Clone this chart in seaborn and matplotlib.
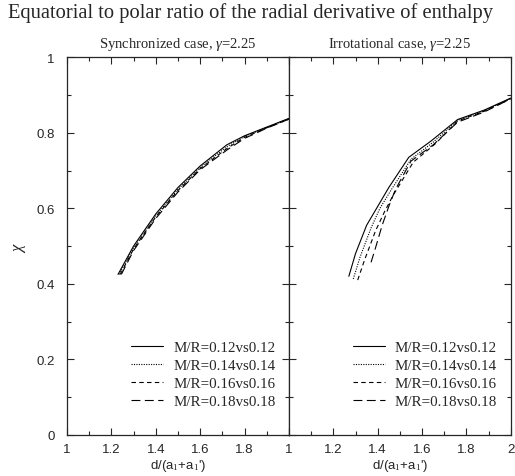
import numpy as np
import pandas as pd
import matplotlib.pyplot as plt
import seaborn as sns

# data
models = ['M/R=0.12vs0.12', 'M/R=0.14vs0.14', 'M/R=0.16vs0.16', 'M/R=0.18vs0.18']

sync_x = [
    [1.23, 1.30, 1.40, 1.50, 1.60, 1.72, 1.80, 1.90, 2.00],
    [1.235, 1.30, 1.40, 1.50, 1.60, 1.72, 1.80, 1.90, 2.00],
    [1.24, 1.30, 1.40, 1.50, 1.60, 1.72, 1.80, 1.90, 2.00],
    [1.245, 1.30, 1.40, 1.50, 1.60, 1.72, 1.80, 1.90, 2.00],
]
sync_y = [
    [0.425, 0.500, 0.585, 0.655, 0.712, 0.768, 0.792, 0.815, 0.838],
    [0.425, 0.495, 0.580, 0.650, 0.708, 0.763, 0.790, 0.814, 0.837],
    [0.425, 0.492, 0.577, 0.647, 0.705, 0.758, 0.788, 0.813, 0.836],
    [0.425, 0.488, 0.573, 0.643, 0.702, 0.754, 0.785, 0.812, 0.836],
]

irrot_x = [
    [1.27, 1.30, 1.35, 1.40, 1.45, 1.54, 1.64, 1.76, 1.88, 2.00],
    [1.29, 1.32, 1.37, 1.41, 1.46, 1.55, 1.65, 1.76, 1.88, 2.00],
    [1.31, 1.34, 1.39, 1.43, 1.47, 1.56, 1.66, 1.76, 1.88, 2.00],
    [1.37, 1.39, 1.42, 1.45, 1.48, 1.55, 1.65, 1.76, 1.88, 2.00],
]
irrot_y = [
    [0.420, 0.480, 0.555, 0.605, 0.655, 0.735, 0.778, 0.835, 0.860, 0.892],
    [0.413, 0.470, 0.548, 0.600, 0.648, 0.730, 0.775, 0.833, 0.858, 0.891],
    [0.410, 0.462, 0.540, 0.590, 0.635, 0.722, 0.771, 0.831, 0.857, 0.890],
    [0.457, 0.495, 0.555, 0.605, 0.650, 0.725, 0.768, 0.828, 0.855, 0.890],
]

titles = [r'Synchronized case, $\gamma$=2.25', r'Irrotational case, $\gamma$=2.25']


def to_frame(xs, ys):
    rows = []
    for m, xx, yy in zip(models, xs, ys):
        for a, b in zip(xx, yy):
            rows.append({'x': a, 'y': b, 'model': m})
    return pd.DataFrame(rows)


sns.set_style('ticks')
plt.rcParams['font.family'] = ['Liberation Sans', 'DejaVu Sans']
plt.rcParams['mathtext.fontset'] = 'custom'
plt.rcParams['mathtext.rm'] = 'Liberation Serif'
plt.rcParams['mathtext.it'] = 'Liberation Serif:italic'

serif = 'Liberation Serif'
dash_map = {
    models[0]: '',
    models[1]: (1, 1.2),
    models[2]: (4, 3),
    models[3]: (8, 4),
}

fig = plt.figure(figsize=(5.15, 4.77), dpi=100)
ax1 = fig.add_axes([0.130, 0.086, 0.431, 0.792])
ax2 = fig.add_axes([0.561, 0.086, 0.431, 0.792])

frames = [to_frame(sync_x, sync_y), to_frame(irrot_x, irrot_y)]

for i, (ax, df) in enumerate(zip([ax1, ax2], frames)):
    sns.lineplot(data=df, x='x', y='y', style='model', dashes=dash_map,
                 color='black', linewidth=0.8, sort=False, estimator=None,
                 ax=ax)
    ax.set_xlim(1, 2)
    ax.set_ylim(0, 1)
    ax.set_xticks(np.arange(1, 2.01, 0.2))
    ax.set_xticks(np.arange(1, 2.01, 0.1), minor=True)
    ax.set_yticks(np.arange(0, 1.01, 0.2))
    ax.set_yticks(np.arange(0, 1.01, 0.1), minor=True)
    ax.tick_params(which='both', direction='in', top=True, right=True,
                   labelsize=9.5)
    ax.tick_params(axis='x', which='both', pad=6)
    ax.tick_params(axis='y', which='both', pad=9)
    ax.tick_params(which='major', length=5, width=0.8)
    ax.tick_params(which='minor', length=3, width=0.8)
    ax.set_xticklabels(['1', '1.2', '1.4', '1.6', '1.8', '2'])
    for s in ax.spines.values():
        s.set_linewidth(0.9)
    ax.set_xlabel("d/(a$_{\\rm 1}$+a$_{\\rm 1}$')", fontsize=9.5,
                  family=['Liberation Sans'], labelpad=1)
    ax.set_title(titles[i], fontsize=10.5, family=serif, pad=7)
    leg = ax.legend(loc='lower right', frameon=False, handlelength=2.1,
                    handletextpad=0.7,
                    prop={'family': serif, 'size': 10.8},
                    labelspacing=0.3, bbox_to_anchor=(1.0, 0.035))

ax1.set_xticklabels(['1', '1.2', '1.4', '1.6', '1.8', ''])
ax1.set_ylabel(r'$\chi$', fontsize=12, labelpad=6)
ax2.set_ylabel('')
ax2.set_yticklabels([])
ax1.set_yticklabels(['0', '0.2', '0.4', '0.6', '0.8', '1'])

fig.text(0.015, 0.972, 'Equatorial to polar ratio of the radial derivative of enthalpy',
         fontsize=14.8, family=serif, va='center', ha='left')

fig.savefig('out.png', dpi=100)
